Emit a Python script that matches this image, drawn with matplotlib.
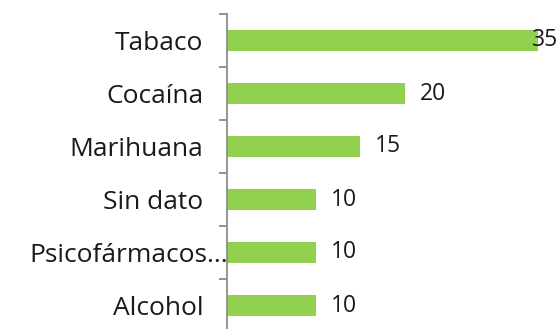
import matplotlib
matplotlib.use("Agg")
import matplotlib.pyplot as plt
import matplotlib.transforms as mtransforms

# datos (de abajo hacia arriba)
categorias = ["Alcohol", "Psicofármacos...", "Sin dato", "Marihuana", "Cocaína", "Tabaco"]
valores = [10, 10, 10, 15, 20, 35]

verde = "#92D050"
gris = "#8c8c8c"

fig = plt.figure(figsize=(5.59, 3.29), dpi=100)
# el eje sale un poco por debajo del borde de la figura, como en el original
ax = fig.add_axes([227 / 559, -3 / 329, (559 - 227) / 559, (332 - 14) / 329])

pos = range(len(categorias))
ax.barh(pos, valores, height=0.41, color=verde)
ax.set_ylim(-0.5, len(categorias) - 0.5)
ax.set_xlim(0, 37.4)

for s in ["top", "right", "bottom"]:
    ax.spines[s].set_visible(False)
ax.spines["left"].set_color(gris)
ax.spines["left"].set_linewidth(1.3)
ax.set_xticks([])

# marcas entre categorias
ax.set_yticks([i - 0.5 for i in range(len(categorias) + 1)])
ax.set_yticklabels([])
ax.tick_params(axis="y", which="major", length=6, width=1.3, color=gris, direction="out")
ax.set_yticks(list(pos), minor=True)
ax.set_yticklabels(categorias, minor=True, fontsize=19, family="Open Sans",
                   color="#1a1a1a")
ax.tick_params(axis="y", which="minor", length=0, pad=17)

# la etiqueta truncada llega casi hasta el eje
for lab in ax.get_yticklabels(minor=True):
    if lab.get_text().startswith("Psico"):
        lab.set_transform(lab.get_transform() + mtransforms.ScaledTranslation(25 / 100, 0, fig.dpi_scale_trans))

# etiquetas de valor
for i, v in enumerate(valores):
    if v == max(valores):
        ax.text(v - 0.6, i, str(v), va="center", ha="left", fontsize=16.5,
                family="Open Sans", color="#1a1a1a")
    else:
        ax.text(v + 1.7, i, str(v), va="center", ha="left", fontsize=16.5,
                family="Open Sans", color="#1a1a1a")

fig.savefig("out.png", dpi=100)
